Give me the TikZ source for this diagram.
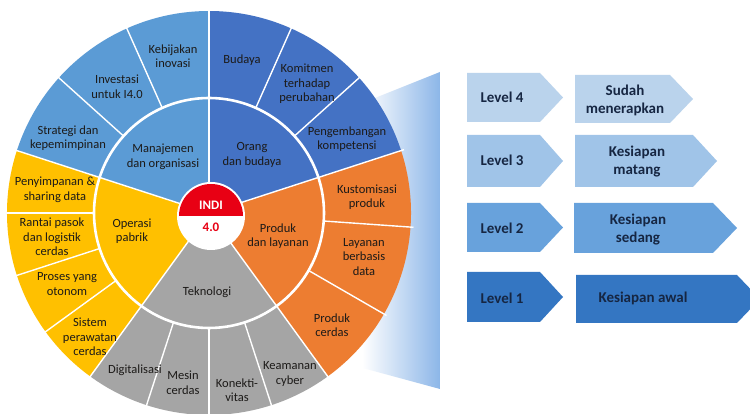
\documentclass[tikz,border=0pt]{standalone}
\usepackage{fontspec}
\setmainfont{Carlito}
\definecolor{mgmtblue}{RGB}{91,155,213}
\definecolor{peopleblue}{RGB}{68,114,196}
\definecolor{opsyellow}{RGB}{255,192,0}
\definecolor{techgray}{RGB}{165,165,165}
\definecolor{prodorange}{RGB}{237,125,49}
\definecolor{indired}{RGB}{232,0,20}
\definecolor{inkc}{RGB}{28,26,24}
\definecolor{navyink}{RGB}{22,38,66}
\definecolor{wedgeblue}{RGB}{140,182,232}
\definecolor{lvfour}{RGB}{186,211,236}
\definecolor{lvthree}{RGB}{160,196,232}
\definecolor{lvtwo}{RGB}{104,162,220}
\definecolor{lvone}{RGB}{52,118,194}
% pentagon arrow: left x, top y, body end x, tip x, bottom y, colour
\newcommand\lvlarrow[6]{\fill[#6] (#1,#2) -- (#3,#2) -- (#4,{(#2+#5)/2}) -- (#3,#5) -- (#1,#5) -- cycle;}
\begin{document}
\begin{tikzpicture}[x=1pt,y=1pt,
  seg/.style={font=\fontsize{12.5}{14.5}\selectfont, text=inkc, align=center, inner sep=0pt},
  sepline/.style={draw=white, line width=1.4pt},
  lvltext/.style={font=\fontsize{15}{18}\selectfont\bfseries, text=navyink, align=center, inner sep=0pt}]
\clip (0,0) rectangle (750,414);
\fill[white] (0,0) rectangle (750,414);
\coordinate (hubc) at (209,201);
\def\Rout{202}
\def\rin{115}

% shaded wedge behind the wheel
\begin{scope}
  \clip (300,286) -- (440,342) -- (440,25) -- (300,63) -- cycle;
  \fill[white] (300,0) rectangle (440,414);
  \shade[left color=white, right color=wedgeblue] (362,0) rectangle (440,414);
\end{scope}

% the five dimensions
\foreach \a/\b/\c in {90/162/mgmtblue, 162/234/opsyellow, 234/306/techgray, 306/378/prodorange, 18/90/peopleblue}
  \fill[\c] (hubc) -- ++(\a:\Rout) arc[start angle=\a, end angle=\b, radius=\Rout] -- cycle;

% separators of the outer ring
\foreach \a in {114,138,42,66,180,198,216,252,270,288,330,356}
  \draw[sepline] (hubc) ++(\a:\rin) -- ++(\a:{\Rout-\rin+3});
% separators between dimensions
\foreach \a in {18,90,162,234,306}
  \draw[sepline] (hubc) -- ++(\a:{\Rout+3});
\draw[white, line width=2.6pt] (hubc) circle[radius=\rin];

% hub
\coordinate (corec) at (211,198);
\fill[white] (corec) circle[radius=34];
\fill[indired] (corec) ++(32,0) arc[start angle=0, end angle=180, radius=32] -- cycle;
\node[font=\fontsize{13}{14}\selectfont\bfseries, text=white, inner sep=0pt] (indi) at (211,209) {INDI};
\node[font=\fontsize{13}{14}\selectfont\bfseries, text=indired, inner sep=0pt] (ver) at (211,187) {4.0};

% inner ring labels
\node[seg] (manajemen) at (163,257) {Manajemen\\dan organisasi};
\node[seg] (orang) at (252,259) {Orang\\dan budaya};
\node[seg] (operasi) at (132,183) {Operasi\\pabrik};
\node[seg] (produkl) at (278,178) {Produk\\dan layanan};
\node[seg] (teknologi) at (207,122) {Teknologi};

% outer ring labels
\node[seg] (kebijakan) at (173,358) {Kebijakan\\inovasi};
\node[seg] (investasi) at (117,327) {Investasi\\untuk I4.0};
\node[seg] (strategi) at (68,276) {Strategi dan\\kepemimpinan};
\node[seg] (budaya) at (242,354) {Budaya};
\node[seg] (komitmen) at (307,330) {Komitmen\\terhadap\\perubahan};
\node[seg] (pengembangan) at (347,275) {Pengembangan\\kompetensi};
\node[seg] (kustomisasi) at (367,217) {Kustomisasi\\produk};
\node[seg] (layanan) at (364,157) {Layanan\\berbasis\\data};
\node[seg] (produkcerdas) at (332,89) {Produk\\cerdas};
\node[seg] (keamanan) at (290,40) {Keamanan\\cyber};
\node[seg] (konektivitas) at (237,24) {Konekti-\\vitas};
\node[seg] (mesin) at (183,31) {Mesin\\cerdas};
\node[seg] (digitalisasi) at (135,44) {Digitalisasi};
\node[seg] (sistem) at (90,77) {Sistem\\perawatan\\cerdas};
\node[seg] (proses) at (67,130) {Proses yang\\otonom};
\node[seg] (rantai) at (52,177) {Rantai pasok\\dan logistik\\cerdas};
\node[seg] (penyimpanan) at (55,224) {Penyimpanan \&\\sharing data};

% readiness levels
\lvlarrow{467}{341}{540}{563}{292}{lvfour}
\lvlarrow{467}{279}{540}{563}{227}{lvthree}
\lvlarrow{467}{211}{540}{563}{162}{lvtwo}
\lvlarrow{467}{142}{540}{563}{92}{lvone}
\lvlarrow{575}{339}{670}{693}{291}{lvfour}
\lvlarrow{575}{279}{693}{717}{227}{lvthree}
\lvlarrow{574}{211}{713}{737}{161}{lvtwo}
\lvlarrow{576}{139}{737}{760}{91}{lvone}
\node[lvltext] (lv4) at (502,317) {Level 4};
\node[lvltext] (lv3) at (502,254) {Level 3};
\node[lvltext] (lv2) at (502,186) {Level 2};
\node[lvltext] (lv1) at (502,116) {Level 1};
\node[lvltext] (st4) at (625,314) {Sudah\\menerapkan};
\node[lvltext] (st3) at (637,252) {Kesiapan\\matang};
\node[lvltext] (st2) at (638,184) {Kesiapan\\sedang};
\node[lvltext] (st1) at (643,116) {Kesiapan awal};
\end{tikzpicture}
\end{document}
